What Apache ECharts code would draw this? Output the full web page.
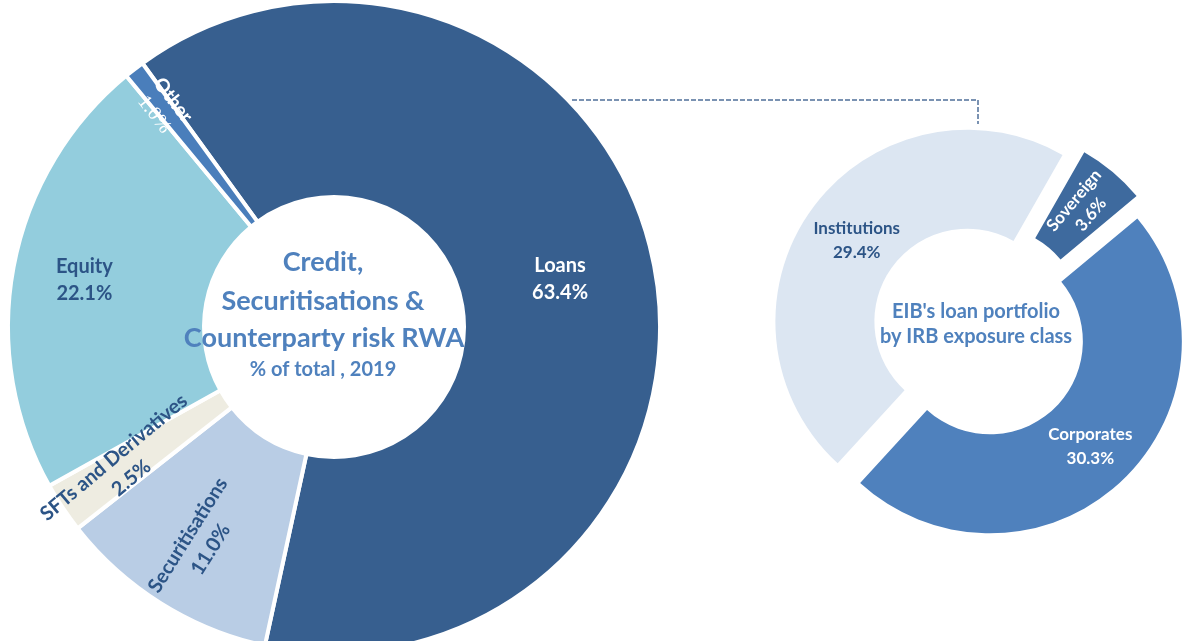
<!DOCTYPE html>
<html>
<head>
<meta charset="utf-8">
<script src="https://cdn.jsdelivr.net/npm/echarts@6/dist/echarts.min.js"></script>
<style>
html,body{margin:0;padding:0;background:#ffffff;}
#chart{width:1183px;height:641px;}
</style>
</head>
<body>
<div id="chart"></div>
<script>
// ---- data ----
const riskCategories = ['Loans', 'Securitisations', 'SFTs and Derivatives', 'Equity', 'Other'];
const riskShares = [63.4, 11.0, 2.5, 22.1, 1.0];
const loanClasses = ['Institutions', 'Sovereign', 'Corporates'];
const loanShares = [29.4, 3.6, 30.3];
const centerTitleLines = ['Credit,', 'Securitisations &', 'Counterparty risk RWA'];
const centerSubtitle = '% of total , 2019';
const loanTitleLines = ["EIB's loan portfolio", 'by IRB exposure class'];

// ---- styles ----
const riskColors = ['#375f8f', '#b9cde5', '#eeece1', '#93cddd', '#4a7ebb'];
const loanColors = ['#dce6f2', '#3e6a9e', '#4f81bd'];
const FONT = 'Lato';
const dark = '#2c5486';
const titleBlue = '#4f81bd';

const fmt = p => p.name + '\n' + p.value.toFixed(1) + '%';

const chart = echarts.init(document.getElementById('chart'), null, {renderer: 'canvas'});

const baseLabel = {show: true, position: 'inside', formatter: fmt, fontFamily: FONT, fontWeight: 'bold', fontSize: 20, lineHeight: 27, color: dark};

// main left ring
const leftMain = {
  type: 'pie', center: [334, 327], radius: [130, 326], startAngle: 126, clockwise: true,
  silent: true, animation: false, z: 2,
  itemStyle: {borderColor: '#ffffff', borderWidth: 4},
  labelLine: {show: false},
  label: {show: false},
  data: riskCategories.map((n, i) => ({
    name: n, value: riskShares[i], itemStyle: {color: riskColors[i]},
    label: n === 'Loans' ? Object.assign({}, baseLabel, {color: '#ffffff'}) : {show: false}
  }))
};

// label carrier rings (transparent) for label radii
const midLabels = {
  'Equity': Object.assign({}, baseLabel),
  'Securitisations': Object.assign({}, baseLabel, {rotate: 'radial'}),
  'SFTs and Derivatives': Object.assign({}, baseLabel, {rotate: 40})
};
const leftLabelRing = {
  type: 'pie', center: [334, 327], radius: [132, 370], startAngle: 126, clockwise: true,
  silent: true, animation: false, z: 3,
  itemStyle: {color: 'rgba(0,0,0,0)', borderWidth: 0},
  labelLine: {show: false}, label: {show: false},
  data: riskCategories.map((n, i) => ({
    name: n, value: riskShares[i],
    label: midLabels[n] ? midLabels[n] : {show: false}
  }))
};
const leftOuterLabelRing = {
  type: 'pie', center: [334, 327], radius: [180, 370], startAngle: 126, clockwise: true,
  silent: true, animation: false, z: 3,
  itemStyle: {color: 'rgba(0,0,0,0)', borderWidth: 0},
  labelLine: {show: false}, label: {show: false},
  data: riskCategories.map((n, i) => ({
    name: n, value: riskShares[i],
    label: n === 'Other' ? {
      show: true, position: 'inside', rotate: 'radial',
      formatter: p => '{a|' + p.name + '}\n{b|' + p.value.toFixed(1) + '%}',
      rich: {
        a: {fontFamily: FONT, fontWeight: 'bold', fontSize: 19, color: '#ffffff', lineHeight: 24},
        b: {fontFamily: 'Liberation Serif', fontSize: 20, color: '#ffffff', lineHeight: 24}
      }
    } : {show: false}
  }))
};

const rightLabel = {show: true, position: 'inside', formatter: fmt, fontFamily: FONT, fontWeight: 'bold', fontSize: 17, lineHeight: 24};
const rightLabels = {
  'Sovereign': Object.assign({}, rightLabel, {color: '#ffffff', rotate: 'radial', lineHeight: 22}),
  'Corporates': Object.assign({}, rightLabel, {color: '#ffffff'})
};
const rightRing = {
  type: 'pie', center: [979.5, 330.5], radius: [93, 192], startAngle: 227.5, clockwise: true,
  silent: true, animation: false, selectedMode: 'multiple', selectedOffset: 15, z: 2,
  itemStyle: {borderWidth: 0},
  labelLine: {show: false},
  data: loanClasses.map((n, i) => ({
    name: n, value: loanShares[i], selected: true,
    itemStyle: {color: loanColors[i]},
    label: rightLabels[n] ? rightLabels[n] : {show: false}
  }))
};
const rightLabelRing = {
  type: 'pie', center: [979.5, 330.5], radius: [78, 190], startAngle: 227.5, clockwise: true,
  silent: true, animation: false, selectedMode: 'multiple', selectedOffset: 15, z: 3,
  itemStyle: {color: 'rgba(0,0,0,0)', borderWidth: 0},
  labelLine: {show: false},
  data: loanClasses.map((n, i) => ({
    name: n, value: loanShares[i], selected: true,
    label: n === 'Institutions' ? Object.assign({}, rightLabel, {color: dark}) : {show: false}
  }))
};

const textEl = (txt, x, y, size) => ({
  type: 'text', x: x, y: y, silent: true, z: 10,
  style: {text: txt, fill: titleBlue, font: 'bold ' + size + 'px ' + FONT, textAlign: 'center', textVerticalAlign: 'middle'}
});

const graphics = [
  {type: 'polyline', silent: true, z: 1,
   shape: {points: [[572, 100], [978, 100], [978, 124]]},
   style: {stroke: '#4f6f99', lineWidth: 1.5, lineDash: [5, 2], fill: null}},
  textEl(centerTitleLines[0], 323, 262, 27),
  textEl(centerTitleLines[1], 323, 301, 27),
  textEl(centerTitleLines[2], 324, 338, 27),
  textEl(centerSubtitle, 323, 370, 20),
  textEl(loanTitleLines[0], 976, 312, 20),
  textEl(loanTitleLines[1], 976, 337, 20)
];

chart.setOption({
  backgroundColor: '#ffffff',
  animation: false,
  series: [leftMain, leftLabelRing, leftOuterLabelRing, rightRing, rightLabelRing],
  graphic: graphics
});
</script>
</body>
</html>
